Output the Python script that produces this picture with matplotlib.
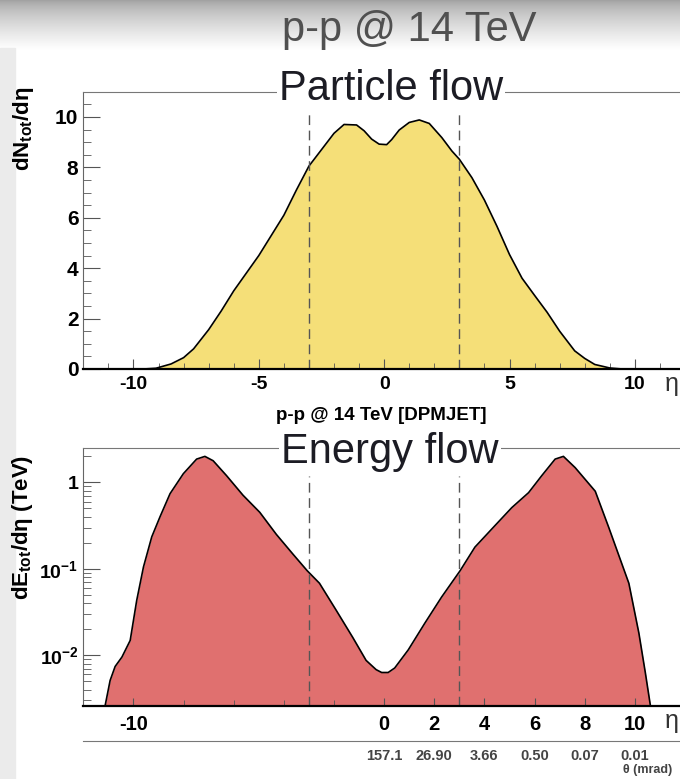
import matplotlib
matplotlib.use('Agg')
import matplotlib.pyplot as plt
import matplotlib.transforms as mtransforms
import numpy as np
from matplotlib.patches import Rectangle
from matplotlib.ticker import MultipleLocator, LogLocator, NullFormatter

plt.rcParams['font.family'] = ['Liberation Sans', 'DejaVu Sans']
plt.rcParams['font.weight'] = 'bold'
plt.rcParams['axes.unicode_minus'] = False
plt.rcParams['mathtext.fontset'] = 'custom'
plt.rcParams['mathtext.rm'] = 'Liberation Sans:bold'
plt.rcParams['mathtext.bf'] = 'Liberation Sans:bold'
plt.rcParams['mathtext.it'] = 'Liberation Sans:bold'
plt.rcParams['mathtext.default'] = 'bf'

# particle flow, dN/deta vs eta
eta_n = [-9.6, -9.1, -8.5, -8.0, -7.6, -7.0, -6.5, -6.0, -5.5, -5.0, -4.5, -4.0,
         -3.5, -3.0, -2.5, -2.0, -1.6, -1.1, -0.8, -0.5, -0.2, 0.1, 0.3, 0.6,
         1.0, 1.4, 1.8, 2.3, 2.7, 3.0, 3.5, 4.0, 4.5, 5.0, 5.5, 6.0, 6.5, 7.0,
         7.6, 8.0, 8.4, 9.0, 9.5]
dndeta = [0.0, 0.03, 0.2, 0.45, 0.8, 1.56, 2.3, 3.1, 3.8, 4.5, 5.3, 6.1,
          7.1, 8.05, 8.7, 9.35, 9.7, 9.68, 9.45, 9.12, 8.92, 8.9, 9.1, 9.48,
          9.78, 9.88, 9.74, 9.18, 8.65, 8.32, 7.59, 6.7, 5.66, 4.54, 3.6, 2.92, 2.25, 1.5,
          0.72, 0.42, 0.18, 0.04, 0.0]

# energy flow, dE/deta (TeV) vs eta
eta_e = [-11.13, -10.93, -10.73, -10.46, -10.13, -9.87, -9.6, -9.27, -8.94, -8.54,
         -8.01, -7.48, -7.15, -6.82, -6.29, -5.63, -4.96, -4.3, -3.64, -3.07,
         -2.58, -1.91, -1.25, -0.72, -0.32, -0.1, 0.16, 0.42, 0.96, 1.62,
         2.29, 3.03, 3.62, 4.42, 5.09, 5.76, 6.29, 6.82, 7.15, 7.62,
         8.42, 8.96, 9.76, 10.16, 10.42, 10.62]
dedeta = [0.0026, 0.0051, 0.0074, 0.0095, 0.0148, 0.043, 0.105, 0.234, 0.40, 0.74,
          1.26, 1.86, 2.0, 1.78, 1.2, 0.71, 0.45, 0.25, 0.148, 0.095,
          0.068, 0.033, 0.016, 0.0087, 0.0068, 0.0063, 0.0063, 0.0071, 0.0115, 0.0234,
          0.047, 0.095, 0.178, 0.316, 0.51, 0.76, 1.2, 1.86, 2.0, 1.48,
          0.79, 0.30, 0.068, 0.018, 0.0062, 0.0026]

cut_eta = [-3, 3]
eta_ticks_e = [-10, 0, 2, 4, 6, 8, 10]
theta_pos = [0, 2, 4, 6, 8, 10]
theta_labels = ['157.1', '26.90', '3.66', '0.50', '0.07', '0.01']

W, H = 680, 779
fig = plt.figure(figsize=(W / 100, H / 100), dpi=100)

# slide header gradient + left strip
hdr = fig.add_axes([0, 1 - 50 / H, 1, 50 / H])
grad = np.linspace(0, 1, 100)[:, None] ** 0.7
hdr.imshow(grad, cmap='gray', vmin=-1.7, vmax=1, aspect='auto')
hdr.axis('off')
fig.patches.append(Rectangle((0, 0), 15 / W, 1 - 48 / H, transform=fig.transFigure,
                             color='#ebebeb', zorder=0))
fig.text(409 / W, 1 - 30 / H, 'p-p @ 14 TeV', fontsize=30, color='#505050',
         ha='center', va='center', fontweight='normal')


def style_frame(ax):
	ax.spines['right'].set_visible(False)
	ax.spines['top'].set_color('#777777')
	ax.spines['left'].set_color('#666666')
	ax.spines['bottom'].set_color('black')
	ax.spines['bottom'].set_linewidth(1.6)


# top panel
ax1 = fig.add_axes([83.3 / W, 1 - 369 / H, 596.7 / W, 277.3 / H])
ax1.fill_between(eta_n, dndeta, 0, color='#f5df78', lw=0)
ax1.plot(eta_n, dndeta, color='black', lw=1.2)
ax1.vlines(cut_eta, 0, 10.4, colors='#555555', linestyles=(0, (7, 4)), lw=1)
ax1.set_xlim(-12, 11.8)
ax1.set_ylim(0, 11.0)
style_frame(ax1)
ax1.xaxis.set_major_locator(MultipleLocator(5))
ax1.xaxis.set_minor_locator(MultipleLocator(1))
ax1.yaxis.set_major_locator(MultipleLocator(2))
ax1.yaxis.set_minor_locator(MultipleLocator(0.5))
ax1.tick_params(axis='x', which='major', direction='in', length=7, color='#555555',
                labelsize=14, pad=5)
ax1.tick_params(axis='x', which='minor', direction='in', length=4, color='#555555')
ax1.tick_params(axis='y', which='major', direction='in', length=12, color='#555555',
                labelsize=15, pad=3.5)
ax1.tick_params(axis='y', which='minor', direction='in', length=6, color='#555555')
ax1.text(0.516, 0.971, 'Particle flow', transform=ax1.transAxes, fontsize=30,
         fontweight='normal', color='#1c1c24', ha='center', va='baseline', zorder=5,
         bbox=dict(facecolor='white', edgecolor='none', pad=1.5))

fig.text(23 / W, 1 - 87 / H, r'dN$_{tot}$/dη', rotation=90, ha='center', va='top',
         fontsize=16)
fig.text(381 / W, 1 - 415 / H, 'p-p @ 14 TeV [DPMJET]', ha='center', va='center',
         fontsize=13.5)
fig.text(672 / W, 1 - 384 / H, 'η', fontsize=18, fontweight='normal', color='#333333',
         ha='center', va='center')

# bottom panel
ax2 = fig.add_axes([83.3 / W, 1 - 705.7 / H, 596.7 / W, 257.7 / H])
ax2.set_yscale('log')
ymin = 0.0026
ax2.fill_between(eta_e, dedeta, ymin, color='#e0706f', lw=0)
ax2.plot(eta_e, dedeta, color='black', lw=1.2)
ax2.vlines(cut_eta, ymin, 1.2, colors='#555555', linestyles=(0, (7, 4)), lw=1)
ax2.set_xlim(-12, 11.8)
ax2.set_ylim(ymin, 2.5)
style_frame(ax2)
ax2.set_xticks(eta_ticks_e, labels=[str(t) for t in eta_ticks_e])
ax2.set_xticks([-8, -6, -4, -2], minor=True)
ax2.set_yticks([0.01, 0.1, 1], labels=[r'$10^{-2}$', r'$10^{-1}$', '1'])
ax2.yaxis.set_minor_locator(LogLocator(base=10, subs=np.arange(2, 10)))
ax2.yaxis.set_minor_formatter(NullFormatter())
ax2.tick_params(axis='x', which='major', direction='in', length=6, color='#555555',
                labelsize=14.5, pad=6.5)
ax2.tick_params(axis='x', which='minor', direction='in', length=4, color='#555555')
ax2.tick_params(axis='y', which='major', direction='in', length=12, color='#555555',
                labelsize=14, pad=3.5)
ax2.tick_params(axis='y', which='minor', direction='in', length=6, color='#555555')
ax2.text(0.514, 0.942, 'Energy flow', transform=ax2.transAxes, fontsize=30,
         fontweight='normal', color='#1c1c24', ha='center', va='baseline', zorder=5,
         bbox=dict(facecolor='white', edgecolor='none', pad=1.5))

# theta scale under the eta axis
sec = ax2.secondary_xaxis(-35 / 257.7)
sec.set_xticks(theta_pos, labels=theta_labels)
sec.set_xticks([0], minor=True)
sec.tick_params(which='major', length=0, labelsize=10.5, labelcolor='#444444', pad=6)
sec.tick_params(which='minor', length=9, direction='inout', color='#777777')
sec.spines['bottom'].set_color('#777777')
trans = mtransforms.blended_transform_factory(ax2.transData, ax2.transAxes)
ax2.text(10.5, -0.25, 'θ (mrad)', transform=trans, fontsize=9, color='#444444',
         ha='center', va='center')

fig.text(23 / W, 1 - 455 / H, r'dE$_{tot}$/dη (TeV)', rotation=90, ha='center', va='top',
         fontsize=16)
fig.text(672 / W, 1 - 721 / H, 'η', fontsize=18, fontweight='normal', color='#333333',
         ha='center', va='center')

fig.savefig('out.png', dpi=100)
